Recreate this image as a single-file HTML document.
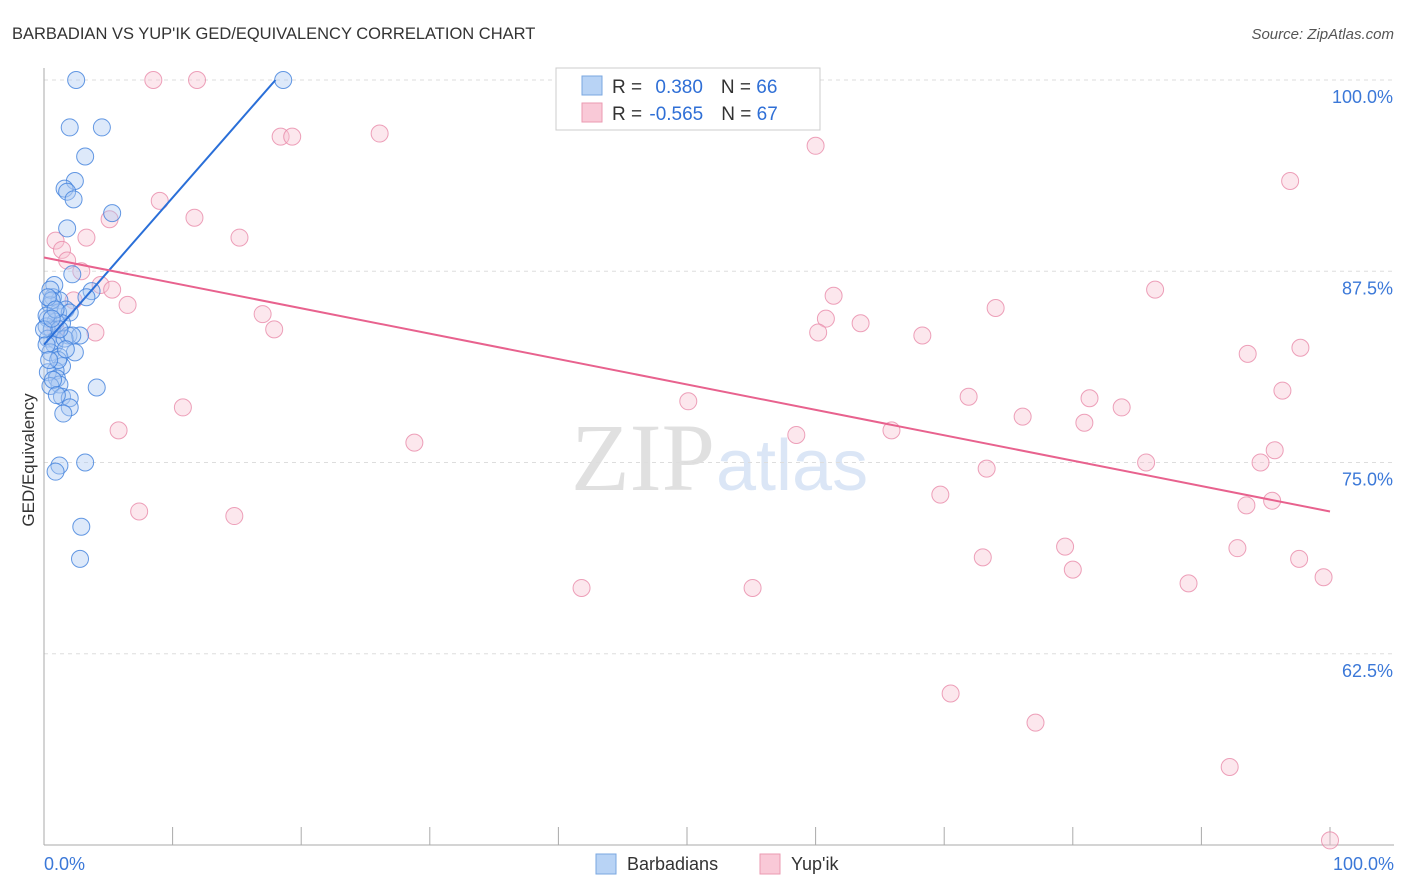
<!DOCTYPE html>
<html><head><meta charset="utf-8"><style>
body{margin:0;background:#fff;font-family:"Liberation Sans",sans-serif}
svg{display:block}
</style></head><body>
<svg id="chart" width="1406" height="892">
<text x="12" y="39" font-size="16.5" fill="#333">BARBADIAN VS YUP'IK GED/EQUIVALENCY CORRELATION CHART</text>
<text x="1394" y="39" font-size="15" fill="#555" font-style="italic" text-anchor="end">Source: ZipAtlas.com</text>
<text x="34" y="460" font-size="17" fill="#333" transform="rotate(-90 34 460)" text-anchor="middle">GED/Equivalency</text>
<text x="715" y="490" font-size="96" fill="#e0e0e0" font-family="Liberation Serif,serif" text-anchor="end">ZIP</text>
<text x="716" y="490" font-size="72" fill="#dbe6f6">atlas</text>
<g id="grid"></g><g id="axes"></g><g id="pts"></g><g id="lines"></g>
<g>
<rect x="556" y="68" width="264" height="62" fill="#fff" stroke="#ccc"/>
<rect x="582" y="76" width="20" height="19" fill="#b8d3f5" stroke="#7aa7e0"/>
<rect x="582" y="103" width="20" height="19" fill="#f9c9d7" stroke="#eb9ab2"/>
<text x="612" y="93" font-size="19" fill="#333">R = <tspan fill="#2f6fd6" dx="8">0.380</tspan><tspan dx="18">N = </tspan><tspan fill="#2f6fd6">66</tspan></text>
<text x="612" y="120" font-size="19" fill="#333">R = <tspan fill="#2f6fd6" dx="2">-0.565</tspan><tspan dx="18">N = </tspan><tspan fill="#2f6fd6">67</tspan></text>
</g>
<g>
<rect x="596" y="854" width="20" height="20" fill="#b8d3f5" stroke="#7aa7e0"/>
<text x="627" y="870" font-size="18" fill="#333">Barbadians</text>
<rect x="760" y="854" width="20" height="20" fill="#f9c9d7" stroke="#eb9ab2"/>
<text x="791" y="870" font-size="18" fill="#333">Yup'ik</text>
</g>
<text x="44" y="870" font-size="18" fill="#3b78d8">0.0%</text>
<text x="1394" y="870" font-size="18" fill="#3b78d8" text-anchor="end">100.0%</text>
</svg>
<script>
const yTicks=[100,87.5,75,62.5];
const yTickLabels=["100.0%","87.5%","75.0%","62.5%"];
const xTicks=[10,20,30,40,50,60,70,80,90,100];
const blueX=[2.5,18.6,2.0,4.5,3.2,2.4,1.6,1.8,2.3,5.3,1.8,2.2,0.8,3.7,0.7,3.3,1.2,0.5,1.7,1.1,2.0,0.3,0.9,1.4,0.2,0.6,1.9,2.8,0.3,0.9,0.8,2.4,0.5,1.2,1.4,0.9,0.3,1.0,1.2,4.1,0.5,1.4,2.0,2.0,1.5,1.2,0.9,3.2,2.9,2.8,0.5,0.6,0.2,1.1,1.6,2.2,0.2,0.0,0.3,0.9,1.2,0.6,0.4,0.7,1.7,1.0];
const blueY=[100,100,96.9,96.9,95.0,93.4,92.9,92.7,92.2,91.3,90.3,87.3,86.6,86.2,85.8,85.8,85.6,85.3,85.0,84.8,84.8,84.4,84.2,84.1,83.9,83.7,83.3,83.3,83.1,83.0,82.7,82.2,82.2,81.9,81.3,81.0,80.9,80.5,80.1,79.9,80.0,79.3,79.2,78.6,78.2,74.8,74.4,75.0,70.8,68.7,86.3,85.6,82.7,81.7,83.1,83.3,84.6,83.7,85.8,85.0,83.7,84.4,81.7,80.4,82.4,79.4];
const pinkX=[8.5,11.9,18.4,19.3,26.1,60.0,96.9,9.0,11.7,5.1,15.2,0.9,3.3,1.4,1.8,2.9,4.4,5.3,2.3,6.5,17.0,17.9,4.0,61.4,60.8,60.2,63.5,68.3,74.0,86.4,97.7,93.6,96.3,71.9,81.3,83.8,76.1,80.9,10.8,50.1,5.8,28.8,58.5,65.9,95.7,94.6,85.7,73.3,69.7,93.5,95.5,7.4,14.8,79.4,73.0,92.8,97.6,80.0,89.0,99.5,41.8,55.1,70.5,77.1,92.2,100,0.9];
const pinkY=[100,100,96.3,96.3,96.5,95.7,93.4,92.1,91.0,90.9,89.7,89.5,89.7,88.9,88.2,87.5,86.6,86.3,85.6,85.3,84.7,83.7,83.5,85.9,84.4,83.5,84.1,83.3,85.1,86.3,82.5,82.1,79.7,79.3,79.2,78.6,78.0,77.6,78.6,79.0,77.1,76.3,76.8,77.1,75.8,75.0,75.0,74.6,72.9,72.2,72.5,71.8,71.5,69.5,68.8,69.4,68.7,68.0,67.1,67.5,66.8,66.8,59.9,58.0,55.1,50.3,83.7];
const blueTrend=[[0,82.7],[18.0,100]];
const pinkTrend=[[0,88.4],[100,71.8]];
const NS="http://www.w3.org/2000/svg";
const X0=44,X1=1330,YB=845,YT=80;
const sx=v=>X0+(X1-X0)*v/100;
const sy=v=>YB-(YB-YT)*(v-50)/50;
function mk(tag,a,parent){const e=document.createElementNS(NS,tag);for(const k in a)e.setAttribute(k,a[k]);document.getElementById(parent).appendChild(e);return e;}
yTicks.forEach((t,i)=>{
 const l=mk('line',{x1:X0,x2:1394,y1:sy(t),y2:sy(t),stroke:'#ddd','stroke-dasharray':'4,4'},'grid');
 
 
 const tx=mk('text',{x:1393,y:sy(t)+23,'font-size':18,fill:'#3b78d8','text-anchor':'end'},'grid');
 tx.textContent=yTickLabels[i];
 
 
});
const ya=mk('line',{x1:X0,x2:X0,y1:68,y2:YB,stroke:'#aaa'},'axes');


const xa=mk('line',{x1:X0,x2:1394,y1:YB,y2:YB,stroke:'#aaa'},'axes');


xTicks.forEach(t=>{
 const l=mk('line',{x1:sx(t),x2:sx(t),y1:YB,y2:YB-18,stroke:'#aaa'},'axes');
 
 
});
function pts(xs,ys,fill,stroke,name){
 xs.forEach((x,i)=>{
  const c=mk('circle',{cx:sx(x),cy:sy(ys[i]),r:8.5,fill:fill,'fill-opacity':0.4,stroke:stroke,'stroke-opacity':0.8,'stroke-width':1},'pts');
  
  
 });
}
pts(pinkX,pinkY,'#f7c3d3','#e98aa9','yupik-point');
pts(blueX,blueY,'#a9c9f2','#3f7fdc','barbadian-point');
const bl=mk('line',{x1:sx(blueTrend[0][0]),y1:sy(blueTrend[0][1]),x2:sx(blueTrend[1][0]),y2:sy(blueTrend[1][1]),stroke:'#2a6fd8','stroke-width':2},'lines');


const pl=mk('line',{x1:sx(pinkTrend[0][0]),y1:sy(pinkTrend[0][1]),x2:sx(pinkTrend[1][0]),y2:sy(pinkTrend[1][1]),stroke:'#e8628e','stroke-width':2},'lines');


</script>
</body></html>
